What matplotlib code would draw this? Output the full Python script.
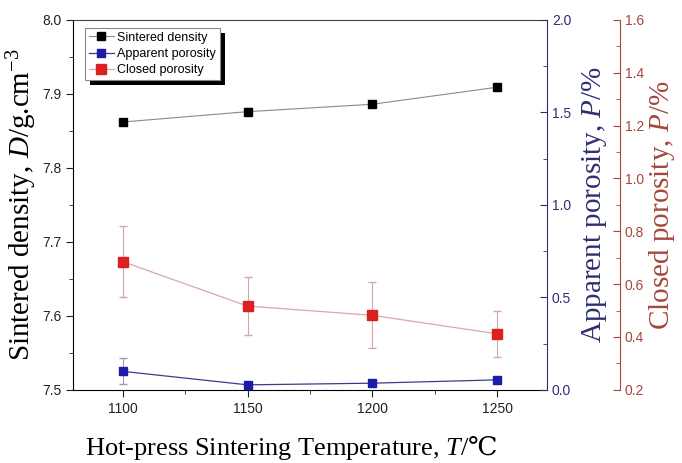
import numpy as np
import matplotlib
matplotlib.use("Agg")
import matplotlib.pyplot as plt
from matplotlib.ticker import MultipleLocator, FormatStrFormatter
from matplotlib.patches import Rectangle

# data
temp = [1100, 1150, 1200, 1250]
density = [7.862, 7.876, 7.886, 7.909]
density_err = [0.002, 0.005, 0.002, 0.002]
apparent = [0.10, 0.027, 0.036, 0.054]
apparent_err = [0.07, 0.005, 0.008, 0.015]
closed = [0.685, 0.517, 0.482, 0.412]
closed_err = [0.135, 0.11, 0.125, 0.086]

blue_ax = "#2d2f72"
red_ax = "#a4473c"

plt.rcParams['font.family'] = ['Liberation Sans', 'DejaVu Sans']
plt.rcParams['mathtext.fontset'] = 'custom'
plt.rcParams['mathtext.rm'] = 'DejaVu Serif'
plt.rcParams['mathtext.it'] = 'Liberation Serif:italic'
plt.rcParams['mathtext.bf'] = 'Liberation Serif:bold'
plt.rcParams['mathtext.sf'] = 'Liberation Serif'
serif = ['Liberation Serif', 'DejaVu Serif']

fig = plt.figure(figsize=(6.82, 4.63), dpi=100)
ax = fig.add_axes([0.107, 0.158, 0.695, 0.799])
ax2 = ax.twinx()
ax3 = ax.twinx()
ax3.spines['right'].set_position(('axes', 1.154))

# sintered density
ax.errorbar(temp, density, yerr=density_err, fmt='none', ecolor='#999999', elinewidth=0.8, capsize=3)
l1, = ax.plot(temp, density, color='#8a8a8a', lw=0.8, marker='s', ms=6,
              mfc='black', mec='black', label='Sintered density')

# apparent porosity
ax2.errorbar(temp, apparent, yerr=apparent_err, fmt='none', ecolor='#9a9ab0', elinewidth=0.8, capsize=3)
l2, = ax2.plot(temp, apparent, color='#3a3c8a', lw=0.9, marker='s', ms=6,
               mfc='#1c1ca8', mec='#1c1ca8', label='Apparent porosity')

# closed porosity
ax3.errorbar(temp, closed, yerr=closed_err, fmt='none', ecolor='#cfa9a4', elinewidth=0.8, capsize=3)
l3, = ax3.plot(temp, closed, color='#d7aaa5', lw=0.9, marker='s', ms=7,
               mfc='#dc2020', mec='#dc2020', label='Closed porosity')

ax.set_xlim(1080, 1270)
ax.set_ylim(7.5, 8.0)
ax2.set_ylim(0.0, 2.0)
ax3.set_ylim(0.2, 1.6)

ax.set_xticks(temp)
ax.xaxis.set_minor_locator(MultipleLocator(25))
ax.yaxis.set_major_locator(MultipleLocator(0.1))
ax.yaxis.set_minor_locator(MultipleLocator(0.05))
ax.yaxis.set_major_formatter(FormatStrFormatter('%.1f'))
ax2.yaxis.set_major_locator(MultipleLocator(0.5))
ax2.yaxis.set_minor_locator(MultipleLocator(0.25))
ax2.yaxis.set_major_formatter(FormatStrFormatter('%.1f'))
ax3.yaxis.set_major_locator(MultipleLocator(0.2))
ax3.yaxis.set_minor_locator(MultipleLocator(0.1))
ax3.yaxis.set_major_formatter(FormatStrFormatter('%.1f'))

ax.tick_params(axis='both', which='major', direction='out', length=5, labelsize=10, colors='#222222')
ax.tick_params(axis='both', which='minor', direction='out', length=3, colors='#222222')
ax2.tick_params(axis='y', which='major', direction='in', length=5, labelsize=10, colors=blue_ax)
ax2.tick_params(axis='y', which='minor', direction='in', length=3, colors=blue_ax)
ax3.tick_params(axis='y', which='major', direction='in', length=5, labelsize=10, colors=red_ax)
ax3.tick_params(axis='y', which='minor', direction='in', length=3, colors=red_ax)

ax2.spines['right'].set_color(blue_ax)
ax3.spines['right'].set_color(red_ax)
for a in (ax2, ax3):
    a.spines['left'].set_visible(False)
    a.spines['top'].set_visible(False)
    a.spines['bottom'].set_visible(False)
ax3.spines['right'].set_visible(True)
ax.spines['right'].set_visible(False)
ax.spines['top'].set_color('#444444')

ax.set_xlabel('Hot-press Sintering Temperature, $T$/$\\mathrm{\u2103}$', fontsize=19, family=serif)
ax.xaxis.set_label_coords(0.46, -0.12)
ax.set_ylabel('Sintered density, $D$/g.cm$^{\\mathsf{-3}}$', fontsize=21, family=serif, labelpad=2)
ax2.set_ylabel('Apparent porosity, $P$/%', fontsize=21, family=serif, color=blue_ax, labelpad=6)
ax3.set_ylabel('Closed porosity, $P$/%', fontsize=21, family=serif, color=red_ax, labelpad=2)

leg = ax.legend(handles=[l1, l2, l3], loc='upper left', bbox_to_anchor=(0.02, 0.985),
                fontsize=9, frameon=True, fancybox=False, edgecolor='#888888',
                framealpha=1, borderpad=0.3, labelspacing=0.35, handlelength=2.0,
                handletextpad=0.3, borderaxespad=0.2)
leg.get_frame().set_linewidth(0.8)
leg.set_zorder(10)

# thick black drop shadow behind the legend box
fig.canvas.draw()
bb = leg.get_window_extent()
shadow = Rectangle((bb.x0 + 5, bb.y0 - 5), bb.width, bb.height, transform=None,
                   facecolor='black', edgecolor='none', zorder=9)
ax.add_artist(shadow)

fig.savefig('out.png', dpi=100)
